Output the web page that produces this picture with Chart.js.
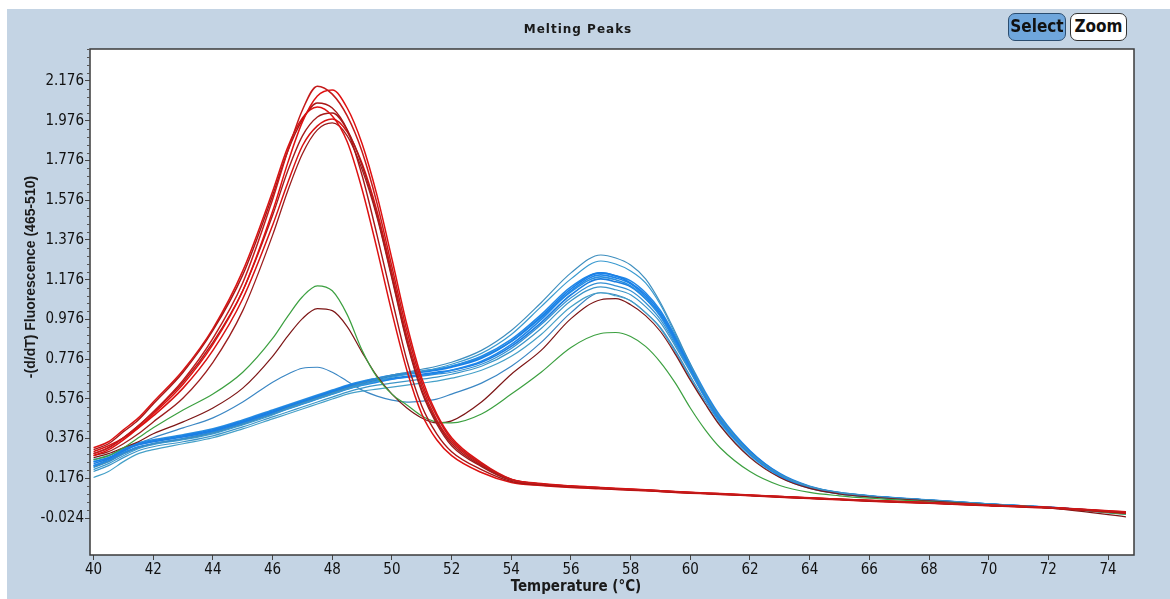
<!DOCTYPE html>
<html>
<head>
<meta charset="utf-8">
<title>Melting Peaks</title>
<script src="https://cdn.jsdelivr.net/npm/chart.js@4.4.0/dist/chart.umd.min.js"></script>
<style>
  html, body { margin: 0; padding: 0; background: #fff; }
  body { width: 1170px; height: 599px; position: relative; overflow: hidden; }
  #panel { position: absolute; left: 7px; top: 9px; width: 1163px; height: 590px; background: #c4d4e4; }
  #chart { position: absolute; left: 0; top: 0; }
  .btn {
    position: absolute; top: 13px; height: 28px; box-sizing: border-box;
    border: 1.5px solid #333; border-radius: 7px;
    font: bold 17px 'Liberation Sans Narrow', 'DejaVu Sans Condensed', sans-serif;
    line-height: 25px; text-align: center; color: #111;
  }
  #btnSelect { left: 1008px; width: 58px; background: #6fa6dc; border-color: #2b4d70; }
  #btnZoom { left: 1070px; width: 57px; background: #fff; }
</style>
</head>
<body>
<div id="panel"></div>
<canvas id="chart" width="1170" height="599"></canvas>
<div class="btn" id="btnSelect">Select</div>
<div class="btn" id="btnZoom">Zoom</div>
<script>
/*=================================
      data
=================================*/
const temps = [40, 40.5, 41, 41.5, 42, 43, 44, 45, 46, 46.5, 47, 47.5, 48, 48.5, 49, 49.5, 50, 50.5, 51, 51.5, 52, 53, 54, 55, 56, 57, 57.5, 58, 58.5, 59, 59.5, 60, 60.5, 61, 62, 63, 64, 65, 66, 68, 70, 72, 74.6];

const xTicks = [40, 42, 44, 46, 48, 50, 52, 54, 56, 58, 60, 62, 64, 66, 68, 70, 72, 74];
const yTicks = [-0.024, 0.176, 0.376, 0.576, 0.776, 0.976, 1.176, 1.376, 1.576, 1.776, 1.976, 2.176];

// red samples (single peak near 47.7)
const red1 = [0.30, 0.33, 0.38, 0.44, 0.51, 0.67, 0.88, 1.16, 1.58, 1.82, 2.03, 2.15, 2.11, 2.00, 1.82, 1.56, 1.24, 0.92, 0.66, 0.49, 0.37, 0.25, 0.17, 0.148, 0.136, 0.128, 0.124, 0.12, 0.117, 0.113, 0.109, 0.105, 0.101, 0.098, 0.091, 0.084, 0.077, 0.07, 0.064, 0.053, 0.041, 0.029, 0.006];
const red2 = [0.29, 0.32, 0.37, 0.43, 0.50, 0.65, 0.85, 1.12, 1.52, 1.76, 1.97, 2.10, 2.13, 2.04, 1.86, 1.60, 1.28, 0.95, 0.68, 0.50, 0.38, 0.255, 0.172, 0.15, 0.138, 0.13, 0.126, 0.122, 0.118, 0.114, 0.11, 0.106, 0.102, 0.099, 0.092, 0.085, 0.078, 0.071, 0.065, 0.054, 0.042, 0.03, 0.008];
const red3 = [0.32, 0.35, 0.41, 0.47, 0.55, 0.71, 0.92, 1.20, 1.60, 1.82, 1.98, 2.065, 2.04, 1.93, 1.70, 1.40, 1.08, 0.77, 0.54, 0.40, 0.31, 0.22, 0.16, 0.142, 0.132, 0.125, 0.121, 0.117, 0.114, 0.11, 0.106, 0.102, 0.099, 0.096, 0.089, 0.082, 0.075, 0.069, 0.062, 0.051, 0.039, 0.027, 0.002];
const red4 = [0.33, 0.36, 0.42, 0.48, 0.56, 0.72, 0.93, 1.22, 1.62, 1.84, 1.99, 2.045, 2.00, 1.87, 1.63, 1.33, 1.01, 0.72, 0.50, 0.37, 0.29, 0.205, 0.155, 0.14, 0.13, 0.123, 0.12, 0.116, 0.113, 0.109, 0.105, 0.101, 0.098, 0.095, 0.088, 0.081, 0.074, 0.068, 0.061, 0.05, 0.038, 0.026, 0.0];
const red5 = [0.30, 0.33, 0.38, 0.44, 0.51, 0.66, 0.86, 1.12, 1.50, 1.72, 1.90, 1.995, 2.015, 1.93, 1.75, 1.50, 1.19, 0.87, 0.62, 0.46, 0.35, 0.24, 0.168, 0.147, 0.135, 0.127, 0.123, 0.12, 0.116, 0.112, 0.108, 0.104, 0.1, 0.097, 0.09, 0.083, 0.076, 0.07, 0.063, 0.052, 0.04, 0.028, 0.004];
const red6 = [0.31, 0.34, 0.38, 0.43, 0.49, 0.63, 0.82, 1.08, 1.45, 1.66, 1.85, 1.95, 1.985, 1.92, 1.76, 1.52, 1.21, 0.89, 0.64, 0.47, 0.36, 0.245, 0.17, 0.148, 0.136, 0.128, 0.124, 0.121, 0.117, 0.113, 0.109, 0.105, 0.101, 0.098, 0.091, 0.084, 0.077, 0.071, 0.064, 0.053, 0.041, 0.029, 0.005];
const red7 = [0.29, 0.31, 0.35, 0.40, 0.46, 0.58, 0.76, 1.02, 1.40, 1.62, 1.81, 1.93, 1.965, 1.90, 1.73, 1.49, 1.18, 0.86, 0.61, 0.45, 0.34, 0.235, 0.165, 0.145, 0.134, 0.126, 0.122, 0.119, 0.115, 0.111, 0.107, 0.103, 0.1, 0.097, 0.09, 0.083, 0.076, 0.07, 0.063, 0.052, 0.04, 0.028, 0.004];

// blue samples (shoulder near 50, peak near 57)
const blue1 = [0.23, 0.26, 0.30, 0.33, 0.35, 0.375, 0.405, 0.45, 0.50, 0.53, 0.555, 0.58, 0.605, 0.63, 0.655, 0.675, 0.695, 0.71, 0.725, 0.74, 0.76, 0.82, 0.92, 1.06, 1.21, 1.30, 1.285, 1.25, 1.18, 1.06, 0.91, 0.75, 0.60, 0.48, 0.305, 0.195, 0.135, 0.105, 0.088, 0.067, 0.047, 0.03, 0.0];
const blue2 = [0.22, 0.25, 0.29, 0.325, 0.345, 0.37, 0.40, 0.445, 0.495, 0.525, 0.55, 0.575, 0.60, 0.625, 0.645, 0.665, 0.685, 0.70, 0.715, 0.73, 0.75, 0.805, 0.90, 1.04, 1.18, 1.27, 1.255, 1.22, 1.16, 1.05, 0.90, 0.75, 0.60, 0.48, 0.305, 0.195, 0.133, 0.103, 0.087, 0.066, 0.046, 0.03, 0.0];
const blue3 = [0.26, 0.28, 0.32, 0.35, 0.365, 0.39, 0.42, 0.465, 0.515, 0.54, 0.565, 0.59, 0.615, 0.64, 0.66, 0.675, 0.69, 0.70, 0.71, 0.72, 0.735, 0.78, 0.865, 0.99, 1.13, 1.21, 1.195, 1.16, 1.10, 1.01, 0.88, 0.74, 0.60, 0.48, 0.31, 0.195, 0.132, 0.102, 0.086, 0.065, 0.045, 0.029, 0.001];
const blue4 = [0.24, 0.265, 0.305, 0.335, 0.35, 0.375, 0.405, 0.45, 0.50, 0.525, 0.55, 0.575, 0.60, 0.625, 0.645, 0.66, 0.675, 0.685, 0.695, 0.705, 0.72, 0.765, 0.85, 0.975, 1.12, 1.20, 1.185, 1.155, 1.09, 1.00, 0.87, 0.73, 0.59, 0.47, 0.30, 0.19, 0.13, 0.10, 0.085, 0.065, 0.046, 0.03, 0.002];
const blue5 = [0.27, 0.29, 0.325, 0.355, 0.37, 0.395, 0.425, 0.47, 0.52, 0.545, 0.57, 0.595, 0.62, 0.645, 0.665, 0.68, 0.695, 0.705, 0.715, 0.725, 0.74, 0.785, 0.865, 0.985, 1.115, 1.19, 1.175, 1.145, 1.08, 0.99, 0.86, 0.72, 0.58, 0.46, 0.295, 0.188, 0.128, 0.099, 0.084, 0.064, 0.045, 0.029, 0.001];
const blue6 = [0.25, 0.275, 0.315, 0.345, 0.36, 0.385, 0.415, 0.46, 0.51, 0.535, 0.56, 0.585, 0.61, 0.635, 0.655, 0.67, 0.68, 0.69, 0.70, 0.71, 0.72, 0.76, 0.84, 0.96, 1.10, 1.18, 1.165, 1.14, 1.08, 0.995, 0.87, 0.735, 0.60, 0.48, 0.31, 0.197, 0.134, 0.103, 0.087, 0.066, 0.046, 0.03, 0.0];
const blue7 = [0.21, 0.24, 0.28, 0.315, 0.335, 0.36, 0.39, 0.435, 0.485, 0.51, 0.535, 0.56, 0.585, 0.61, 0.63, 0.645, 0.655, 0.665, 0.675, 0.685, 0.70, 0.74, 0.815, 0.93, 1.07, 1.14, 1.125, 1.10, 1.04, 0.96, 0.84, 0.71, 0.58, 0.465, 0.30, 0.19, 0.13, 0.10, 0.085, 0.064, 0.045, 0.029, -0.002];
const blue8 = [0.18, 0.21, 0.26, 0.30, 0.32, 0.35, 0.38, 0.425, 0.475, 0.50, 0.525, 0.55, 0.575, 0.60, 0.615, 0.625, 0.635, 0.645, 0.655, 0.665, 0.68, 0.72, 0.79, 0.90, 1.04, 1.11, 1.095, 1.07, 1.01, 0.93, 0.81, 0.68, 0.555, 0.445, 0.285, 0.182, 0.125, 0.097, 0.082, 0.062, 0.043, 0.027, -0.005];
const blue9 = [0.235, 0.26, 0.30, 0.33, 0.35, 0.375, 0.41, 0.455, 0.505, 0.535, 0.56, 0.585, 0.615, 0.64, 0.66, 0.68, 0.695, 0.705, 0.715, 0.725, 0.74, 0.79, 0.875, 1.0, 1.14, 1.21, 1.195, 1.17, 1.11, 1.02, 0.89, 0.75, 0.61, 0.49, 0.315, 0.2, 0.136, 0.104, 0.088, 0.067, 0.047, 0.031, 0.003];
const blue10 = [0.26, 0.28, 0.315, 0.345, 0.36, 0.385, 0.415, 0.46, 0.51, 0.535, 0.56, 0.585, 0.61, 0.635, 0.65, 0.665, 0.675, 0.685, 0.69, 0.70, 0.71, 0.75, 0.83, 0.95, 1.085, 1.16, 1.145, 1.12, 1.06, 0.975, 0.85, 0.715, 0.585, 0.47, 0.305, 0.193, 0.132, 0.101, 0.086, 0.065, 0.045, 0.029, 0.0];
const blueOdd = [0.24, 0.27, 0.31, 0.35, 0.38, 0.43, 0.48, 0.56, 0.66, 0.70, 0.73, 0.735, 0.71, 0.665, 0.62, 0.59, 0.57, 0.56, 0.565, 0.575, 0.60, 0.655, 0.74, 0.86, 1.01, 1.11, 1.10, 1.07, 1.01, 0.935, 0.82, 0.69, 0.565, 0.455, 0.295, 0.19, 0.13, 0.1, 0.085, 0.064, 0.045, 0.029, -0.003];

// the two double-peak samples
const green1 = [0.27, 0.29, 0.33, 0.38, 0.43, 0.52, 0.60, 0.71, 0.88, 0.99, 1.09, 1.145, 1.12, 1.0, 0.82, 0.685, 0.60, 0.545, 0.49, 0.46, 0.455, 0.50, 0.60, 0.71, 0.835, 0.905, 0.91, 0.89, 0.84, 0.76, 0.655, 0.53, 0.42, 0.33, 0.21, 0.14, 0.105, 0.088, 0.076, 0.058, 0.043, 0.029, -0.005];
const brown1 = [0.28, 0.30, 0.33, 0.36, 0.40, 0.46, 0.53, 0.63, 0.79, 0.89, 0.98, 1.03, 1.02, 0.94, 0.81, 0.69, 0.60, 0.53, 0.48, 0.455, 0.465, 0.56, 0.70, 0.82, 0.98, 1.075, 1.08, 1.05, 0.995, 0.915, 0.80, 0.67, 0.55, 0.44, 0.28, 0.18, 0.125, 0.097, 0.082, 0.062, 0.043, 0.027, -0.018];

/*=================================
      building the datasets
=================================*/
function series(values, color, width, order) {
  return {
    data: values.map((v, i) => ({ x: temps[i], y: v })),
    borderColor: color,
    borderWidth: width,
    pointRadius: 0,
    cubicInterpolationMode: "monotone",
    fill: false,
    order: order,
  };
}

const datasets = [
  series(red1, "#c41a1a", 1.5, 1),
  series(red2, "#e01010", 1.5, 1),
  series(red3, "#a81616", 1.4, 1),
  series(red4, "#dd1111", 1.5, 1),
  series(red5, "#a61c1c", 1.4, 1),
  series(red6, "#d81212", 1.5, 1),
  series(red7, "#9c1d1d", 1.3, 1),
  series(green1, "#3ca040", 1.2, 2),
  series(brown1, "#7d1616", 1.2, 2),
  series(blue1, "#3f8fbf", 1.2, 3),
  series(blue2, "#3a9ad0", 1.2, 3),
  series(blue3, "#1a80e6", 1.6, 3),
  series(blue4, "#1e86ea", 1.6, 3),
  series(blue5, "#2a8fe0", 1.6, 3),
  series(blue6, "#1c7ee0", 1.6, 3),
  series(blue7, "#3c95c8", 1.2, 3),
  series(blue8, "#45a0c8", 1.2, 3),
  series(blue9, "#2288e8", 1.6, 3),
  series(blue10, "#3490d4", 1.2, 3),
  series(blueOdd, "#3b87c4", 1.2, 3),
];

/*=================================
      frame, title and axis names
=================================*/
const plotFrame = {
  id: "plotFrame",
  beforeDraw(chart) {
    const a = chart.chartArea;
    const ctx = chart.ctx;
    ctx.save();
    ctx.fillStyle = "#ffffff";
    ctx.fillRect(a.left, a.top, a.right - a.left, a.bottom - a.top);
    ctx.restore();
  },
  afterDraw(chart) {
    const a = chart.chartArea;
    const ctx = chart.ctx;
    const y = chart.scales.y;
    ctx.save();
    ctx.strokeStyle = "#3a3a3a";
    ctx.lineWidth = 1.5;
    ctx.strokeRect(a.left, a.top, a.right - a.left, a.bottom - a.top);

    // small ticks between the labelled ones
    ctx.lineWidth = 1;
    ctx.strokeStyle = "#555";
    for (let i = 0; i < yTicks.length; i++) {
      for (let k = 1; k < 5; k++) {
        const v = yTicks[i] + (k * 0.2) / 5;
        const py = Math.round(y.getPixelForValue(v)) + 0.5;
        if (py < a.top || py > a.bottom) continue;
        ctx.beginPath();
        ctx.moveTo(a.left - 3, py);
        ctx.lineTo(a.left, py);
        ctx.stroke();
      }
    }

    ctx.fillStyle = "#1a1a1a";
    ctx.textAlign = "center";
    ctx.textBaseline = "middle";
    ctx.font = "bold 12px 'DejaVu Sans'";
    ctx.letterSpacing = "1px";
    ctx.fillText("Melting Peaks", 578, 30);
    ctx.letterSpacing = "0px";

    ctx.font = "bold 15px 'Liberation Sans Narrow', 'DejaVu Sans Condensed', sans-serif";
    ctx.fillText("Temperature (°C)", 576, 587);

    ctx.translate(31, 277);
    ctx.rotate(-Math.PI / 2);
    ctx.font = "bold 14px 'Liberation Sans', sans-serif";
    ctx.fillText("-(d/dT) Fluorescence (465-510)", 0, 0);
    ctx.restore();
  },
};

const tickFont = { family: "'Liberation Sans Narrow', 'DejaVu Sans Condensed', sans-serif", size: 15 };

new Chart("chart", {
  type: "line",
  data: { datasets: datasets },
  plugins: [plotFrame],
  options: {
    responsive: false,
    animation: false,
    layout: { padding: { left: 0, top: 49, right: 36, bottom: 0 } },
    plugins: { legend: { display: false }, tooltip: { enabled: false }, title: { display: false } },
    scales: {
      x: {
        type: "linear",
        min: 39.88,
        max: 74.87,
        afterBuildTicks: (scale) => { scale.ticks = xTicks.map((v) => ({ value: v })); },
        afterFit: (scale) => { scale.height = 44; },
        grid: { drawOnChartArea: false, drawTicks: true, tickLength: 5, color: "#444" },
        border: { display: false },
        ticks: { color: "#111", font: tickFont, padding: 1, maxRotation: 0, autoSkip: false, callback: (v) => v },
      },
      y: {
        type: "linear",
        min: -0.21,
        max: 2.337,
        afterBuildTicks: (scale) => { scale.ticks = yTicks.map((v) => ({ value: v })); },
        afterFit: (scale) => { scale.width = 90; },
        grid: { drawOnChartArea: false, drawTicks: true, tickLength: 5, color: "#444" },
        border: { display: false },
        ticks: { color: "#111", font: tickFont, padding: 1, autoSkip: false, callback: (v) => v.toFixed(3) },
      },
    },
  },
});
</script>
</body>
</html>
